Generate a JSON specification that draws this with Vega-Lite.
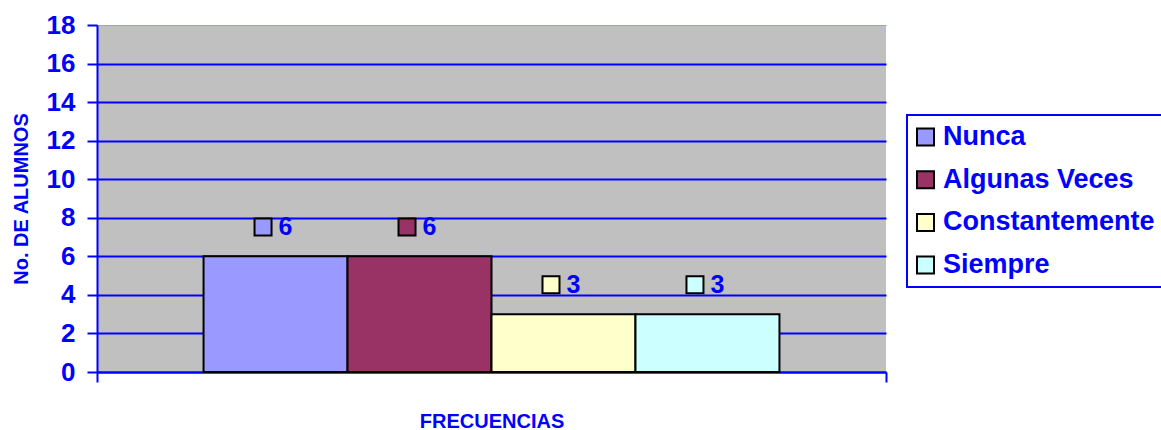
{
  "$schema": "https://vega.github.io/schema/vega-lite/v6.json",
  "width": 789,
  "height": 347,
  "autosize": {"type": "none"},
  "padding": {"left": 97, "top": 25, "right": 275, "bottom": 58},
  "background": "white",
  "config": {
    "font": "Liberation Sans",
    "view": {"fill": "#C0C0C0", "stroke": null},
    "axis": {
      "domainColor": "#0000FF", "domainWidth": 2,
      "tickColor": "#0000FF", "tickWidth": 2, "tickSize": 10,
      "labelColor": "#0000FF", "labelFont": "Liberation Sans", "labelFontWeight": "bold",
      "titleColor": "#0000FF", "titleFont": "Liberation Sans", "titleFontWeight": "bold"
    },
    "legend": {
      "labelFont": "Liberation Sans",
      "strokeWidth": 2
    }
  },
  "data": {
    "values": [
      {"grupo": "FRECUENCIAS", "serie": "Nunca", "alumnos": 6},
      {"grupo": "FRECUENCIAS", "serie": "Algunas Veces", "alumnos": 6},
      {"grupo": "FRECUENCIAS", "serie": "Constantemente", "alumnos": 3},
      {"grupo": "FRECUENCIAS", "serie": "Siempre", "alumnos": 3}
    ]
  },
  "encoding": {
    "x": {
      "field": "grupo", "type": "nominal",
      "scale": {"paddingInner": 0, "paddingOuter": 0},
      "axis": {
        "labels": false, "tickBand": "extent", "title": "FRECUENCIAS",
        "titleFontSize": 20, "titleBaseline": "alphabetic", "titleY": 55
      }
    },
    "xOffset": {
      "field": "serie", "type": "nominal",
      "sort": ["Nunca", "Algunas Veces", "Constantemente", "Siempre"],
      "scale": {"paddingInner": 0, "paddingOuter": 0.74}
    },
    "y": {
      "field": "alumnos", "type": "quantitative", "stack": null,
      "scale": {"domain": [0, 18], "nice": false},
      "axis": {
        "values": [0, 2, 4, 6, 8, 10, 12, 14, 16, 18],
        "title": "No. DE ALUMNOS", "titleFontSize": 20,
        "titleBaseline": "alphabetic", "titleX": -70,
        "labelFontSize": 26, "labelPadding": 12,
        "grid": true,
        "gridColor": {"condition": {"test": "datum.value === 18", "value": "#9999FF"}, "value": "#0000FF"},
        "gridWidth": {"condition": {"test": "datum.value === 18", "value": 1}, "value": 2}
      }
    },
    "color": {
      "field": "serie", "type": "nominal",
      "sort": ["Nunca", "Algunas Veces", "Constantemente", "Siempre"],
      "scale": {
        "domain": ["Nunca", "Algunas Veces", "Constantemente", "Siempre"],
        "range": ["#9999FF", "#993366", "#FFFFCC", "#CCFFFF"]
      }
    }
  },
  "layer": [
    {
      "mark": {"type": "bar", "stroke": "black", "strokeWidth": 2},
      "encoding": {
        "color": {
          "field": "serie", "type": "nominal",
          "sort": ["Nunca", "Algunas Veces", "Constantemente", "Siempre"],
          "scale": {
            "domain": ["Nunca", "Algunas Veces", "Constantemente", "Siempre"],
            "range": ["#9999FF", "#993366", "#FFFFCC", "#CCFFFF"]
          },
          "legend": {
            "title": null, "orient": "none", "legendX": 810, "legendY": 90,
            "direction": "vertical",
            "fillColor": "white", "strokeColor": "#0000FF",
            "padding": 8.5, "rowPadding": 14.7,
            "symbolType": "square", "symbolSize": 289, "symbolOffset": -3.5,
            "symbolStrokeColor": "black", "symbolStrokeWidth": 2,
            "labelFontSize": 27, "labelFontWeight": "bold", "labelColor": "#0000FF",
            "labelOffset": 4, "labelLimit": 400
          }
        }
      }
    },
    {
      "mark": {
        "type": "point", "filled": true, "opacity": 1,
        "stroke": "black", "strokeWidth": 2, "size": 289,
        "shape": "M -2.47 -4.45 L -0.47 -4.45 L -0.47 -2.45 L -2.47 -2.45 Z"
      },
      "encoding": {
        "color": {
          "field": "serie", "type": "nominal",
          "sort": ["Nunca", "Algunas Veces", "Constantemente", "Siempre"],
          "scale": {
            "domain": ["Nunca", "Algunas Veces", "Constantemente", "Siempre"],
            "range": ["#9999FF", "#993366", "#FFFFCC", "#CCFFFF"]
          },
          "legend": null
        }
      }
    },
    {
      "mark": {
        "type": "text", "align": "left", "baseline": "alphabetic",
        "dx": 3, "dy": -21, "fontSize": 25, "fontWeight": "bold",
        "color": "#0000FF", "font": "Liberation Sans"
      },
      "encoding": {
        "text": {"field": "alumnos", "type": "quantitative"},
        "color": {"value": "#0000FF"}
      }
    }
  ]
}
